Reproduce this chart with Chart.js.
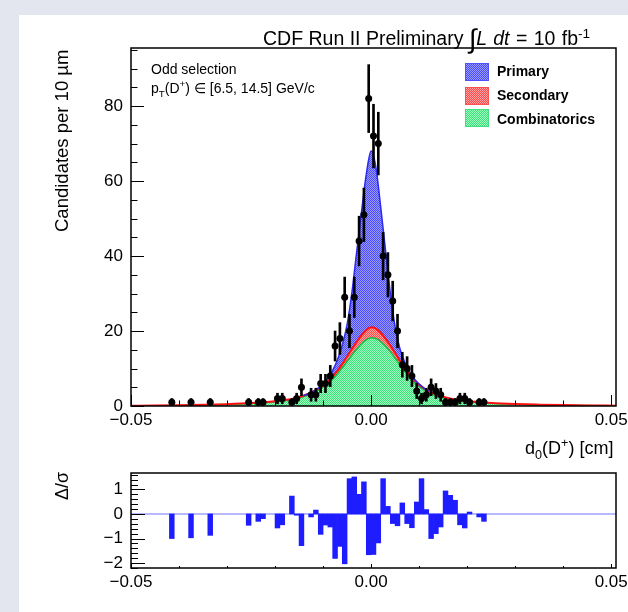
<!DOCTYPE html>
<html>
<head>
<meta charset="utf-8">
<script src="https://cdn.jsdelivr.net/npm/chart.js@4.4.1/dist/chart.umd.min.js"></script>
<style>
  html, body { margin: 0; padding: 0; }
  body { width: 628px; height: 612px; background: #e3e6ee; position: relative; overflow: hidden;
         font-family: "Liberation Sans", Arial, Helvetica, sans-serif; color: #000; }
  #panel { position: absolute; left: 19px; top: 15px; right: 0; bottom: 0; background: #fff; }
  canvas { position: absolute; left: 0; }
  #main { top: 0; }
  #resid { top: 460px; }
  .txt { position: absolute; white-space: nowrap; line-height: 1; }
  .rot { transform-origin: 0 0; transform: rotate(-90deg); }
  .box { position: absolute; width: 22px; height: 16px; }
  sub, sup { font-size: 70%; line-height: 0; }
</style>
</head>
<body>
<div id="panel"></div>
<canvas id="main" width="628" height="470"></canvas>
<canvas id="resid" width="628" height="152"></canvas>

<div class="txt" style="left:263px; top:26px; font-size:19.5px;">CDF Run II Preliminary <span style="font-size:27px; vertical-align:-3px;">∫</span><span style="word-spacing:1px;"><i>L dt</i> = 10 fb<sup>-1</sup></span></div>
<div class="txt" style="left:151px; top:62px; font-size:14px;">Odd selection</div>
<div class="txt" style="left:151px; top:81px; font-size:14px;">p<sub>T</sub>(D<sup>+</sup>) ∈ [6.5, 14.5] GeV/c</div>

<div class="box" style="left:465px; top:63px; border:1px solid #5050ff; background:repeating-conic-gradient(#4b4bff 0 25%, #9a9aff 0 50%) 0 0/2px 2px;"></div>
<div class="box" style="left:465px; top:87px; border:1px solid #ff5050; background:repeating-conic-gradient(#ff4a4a 0 25%, #ffa5a5 0 50%) 0 0/2px 2px;"></div>
<div class="box" style="left:465px; top:109px; border:1px solid #40e080; background:repeating-conic-gradient(#3ee07a 0 25%, #a0ffc0 0 50%) 0 0/2px 2px;"></div>
<div class="txt" style="left:497px; top:64px; font-size:14px; font-weight:bold;">Primary</div>
<div class="txt" style="left:497px; top:88px; font-size:14px; font-weight:bold;">Secondary</div>
<div class="txt" style="left:497px; top:112px; font-size:14px; font-weight:bold;">Combinatorics</div>

<div class="txt rot" style="left:53px; top:232px; font-size:18.5px;">Candidates per 10 µm</div>
<div class="txt" style="left:525px; top:439px; font-size:18px;">d<sub>0</sub>(D<sup>+</sup>) [cm]</div>
<div class="txt rot" style="left:53px; top:500px; font-size:18px;">Δ/σ</div>

<script>
// binned data: bin centres [cm], counts, Poisson errors
const binX = [-0.0415, -0.0375, -0.0335, -0.0255, -0.0235, -0.0225, -0.0195, -0.0185, -0.0165, -0.0155,
  -0.0145, -0.0125, -0.0115, -0.0105, -0.0095, -0.0085, -0.0075, -0.0065, -0.0055, -0.0045,
  -0.0035, -0.0025, -0.0015, -0.0005, 0.0005, 0.0015, 0.0025, 0.0035, 0.0045, 0.0055,
  0.0065, 0.0075, 0.0085, 0.0095, 0.0105, 0.0115, 0.0125, 0.0135, 0.0145, 0.0155,
  0.0165, 0.0175, 0.0185, 0.0195, 0.0205, 0.0225, 0.0235];
const counts = [1, 1, 1, 1, 1, 1, 2, 2, 1, 2,
  5, 3, 3, 6, 6, 8, 16, 18, 29, 20,
  29, 44, 51, 82, 72, 70, 40, 35, 28, 20,
  11, 10, 8, 4, 2, 3, 5, 4, 3, 1,
  1, 1, 2, 2, 1, 1, 1];
const errors = [1, 1, 1, 1, 1, 1, 1.41, 1.41, 1, 1.41,
  2.24, 1.73, 1.73, 2.45, 2.45, 2.83, 4, 4.24, 5.39, 4.47,
  5.39, 6.63, 7.14, 9.06, 8.49, 8.37, 6.32, 5.92, 5.29, 4.47,
  3.32, 3.16, 2.83, 2, 1.41, 1.73, 2.24, 2, 1.73, 1,
  1, 1, 1.41, 1.41, 1, 1, 1];
// pull (fit - data)/sigma for the same bins
const pulls = [-1.0, -0.97, -0.87, -0.46, -0.30, -0.19, -0.57, -0.44, 0.73, -0.05,
  -1.29, -0.12, 0.16, -0.83, -0.45, -0.53, -1.81, -1.32, -2.03, 1.44,
  1.51, 0.80, 1.31, -1.66, -1.65, -1.18, 1.44, 0.31, -0.39, -0.48,
  0.45, -0.39, -0.56, 0.49, 1.44, 0.18, -1.0, -0.80, -0.53, 0.94,
  0.76, 0.56, -0.44, -0.57, 0.08, -0.12, -0.30];

// fit components
const modelX = [-0.05, -0.045, -0.04, -0.035, -0.03, -0.025, -0.02, -0.018, -0.016, -0.014,
  -0.012, -0.011, -0.010, -0.009, -0.008, -0.007, -0.006, -0.005, -0.004, -0.003,
  -0.002, -0.001, 0, 0.001, 0.002, 0.003, 0.004, 0.005, 0.006, 0.007,
  0.008, 0.009, 0.010, 0.011, 0.012, 0.014, 0.016, 0.018, 0.020, 0.025,
  0.030, 0.035, 0.040, 0.045, 0.051];
const combinatorics = [0.05, 0.08, 0.15, 0.25, 0.4, 0.65, 1.1, 1.4, 1.8, 2.5,
  3.5, 4.2, 5.0, 6.0, 7.2, 8.6, 10.2, 11.9, 13.6, 15.2,
  16.6, 17.7, 18.2, 18.0, 17.2, 16.0, 14.5, 12.8, 11.0, 9.3,
  7.7, 6.3, 5.2, 4.3, 3.6, 2.6, 1.9, 1.45, 1.15, 0.7,
  0.45, 0.3, 0.2, 0.12, 0.07];
const secondary = [0.02, 0.03, 0.04, 0.06, 0.08, 0.12, 0.17, 0.2, 0.24, 0.3,
  0.38, 0.43, 0.5, 0.58, 0.7, 0.85, 1.05, 1.3, 1.6, 1.95,
  2.3, 2.6, 2.8, 2.65, 2.35, 2.0, 1.65, 1.35, 1.1, 0.9,
  0.72, 0.6, 0.5, 0.43, 0.38, 0.3, 0.24, 0.2, 0.17, 0.12,
  0.08, 0.06, 0.04, 0.03, 0.02];
const primary = [0, 0, 0, 0, 0, 0, 0, 0, 0, 0,
  0.05, 0.15, 0.35, 0.75, 1.6, 2.9, 5.0, 8.5, 15.0, 24.0,
  32.8, 41.5, 47, 43, 33.5, 23.5, 14, 7.0, 3.2, 1.5,
  0.7, 0.3, 0.15, 0.05, 0, 0, 0, 0, 0, 0,
  0, 0, 0, 0, 0];

const xTickLabels = [-0.05, 0, 0.05];
const yTickLabels = [0, 20, 40, 60, 80];
const pullTickLabels = [-2, -1, 0, 1];

const FONT = '"Liberation Sans", Arial, Helvetica, sans-serif';
Chart.defaults.font.family = FONT;
Chart.defaults.color = '#000';

function hatch(c1, c2) {
  const tile = document.createElement('canvas');
  tile.width = 2;
  tile.height = 2;
  const t = tile.getContext('2d');
  t.fillStyle = c2;
  t.fillRect(0, 0, 2, 2);
  t.fillStyle = c1;
  t.fillRect(0, 0, 1, 1);
  t.fillRect(1, 1, 1, 1);
  return t.createPattern(tile, 'repeat');
}

const fmtX = (v) => (v < 0 ? '\u2212' : '') + Math.abs(v).toFixed(2);

// ROOT style frame with ticks pointing inwards
function frameTicks(spec) {
  return {
    id: 'frameTicks',
    afterDraw(chart) {
      const { ctx, chartArea: a, scales: { x, y } } = chart;
      ctx.save();
      ctx.strokeStyle = '#000';
      ctx.lineWidth = 1;
      ctx.beginPath();
      for (let v = spec.yMin; v <= spec.yMax + 1e-9; v += spec.yStep) {
        const py = Math.round(y.getPixelForValue(v)) + 0.5;
        const major = spec.yMajor.some((m) => Math.abs(m - v) < 1e-6);
        ctx.moveTo(a.left, py);
        ctx.lineTo(a.left + (major ? spec.yLen : spec.yLen / 2), py);
      }
      for (let v = -0.05; v <= 0.0501; v += 0.01) {
        const px = Math.round(x.getPixelForValue(v)) + 0.5;
        const major = xTickLabels.some((m) => Math.abs(m - v) < 1e-6);
        ctx.moveTo(px, a.bottom);
        ctx.lineTo(px, a.bottom - (major ? spec.xLen : spec.xLen / 2));
      }
      ctx.stroke();
      ctx.lineWidth = 1.5;
      ctx.strokeRect(a.left, a.top, a.right - a.left, a.bottom - a.top);
      ctx.restore();
    },
  };
}

function axisX(height) {
  return {
    type: 'linear', min: -0.05, max: 0.051, offset: false,
    grid: { display: false, drawTicks: false }, border: { display: false },
    afterBuildTicks: (s) => { s.ticks = xTickLabels.map((v) => ({ value: v })); },
    afterFit: (s) => { s.height = height; s.paddingLeft = 0; s.paddingRight = 0; },
    ticks: { padding: 4, autoSkip: false, maxRotation: 0, font: { size: 17 }, callback: fmtX },
  };
}

function axisY(min, max, labels) {
  return {
    min, max,
    grid: { display: false, drawTicks: false }, border: { display: false },
    afterBuildTicks: (s) => { s.ticks = labels.map((v) => ({ value: v })); },
    afterFit: (s) => { s.width = 131; s.paddingTop = 0; s.paddingBottom = 0; },
    ticks: { padding: 8, font: { size: 17 }, callback: (v) => (v < 0 ? '\u2212' + Math.abs(v) : String(v)) },
  };
}

const combTop = combinatorics;
const secTop = combinatorics.map((v, i) => v + secondary[i]);
const priTop = secTop.map((v, i) => v + primary[i]);
const curve = (ys) => modelX.map((x, i) => ({ x, y: ys[i] }));
// hide the primary outline where that component is empty
const primaryEdge = (c) => (primary[c.p0DataIndex] < 0.02 && primary[c.p1DataIndex] < 0.02 ? 'rgba(0,0,0,0)' : undefined);

new Chart(document.getElementById('main'), {
  type: 'line',
  data: {
    datasets: [
      { label: 'Combinatorics', data: curve(combTop), fill: 'origin', backgroundColor: hatch('#3ee07a', '#a0ffc0'),
        borderColor: '#18b848', borderWidth: 1.5, pointRadius: 0, cubicInterpolationMode: 'monotone', order: 5 },
      { label: 'Secondary', data: curve(secTop), fill: '-1', backgroundColor: hatch('#ff4a4a', '#ffa5a5'),
        borderColor: '#ff1010', borderWidth: 2, pointRadius: 0, cubicInterpolationMode: 'monotone', order: 4 },
      { label: 'Primary', data: curve(priTop), fill: '-1', backgroundColor: hatch('#4b4bff', '#9a9aff'),
        borderColor: '#2a2aee', borderWidth: 1.5, pointRadius: 0, cubicInterpolationMode: 'monotone', order: 3,
        segment: { borderColor: primaryEdge } },
      { type: 'bar', label: 'err', data: binX.map((x, i) => ({ x, y: [counts[i] - errors[i], counts[i] + errors[i]] })),
        backgroundColor: '#000', barThickness: 2, grouped: false, order: 2 },
      { type: 'scatter', label: 'Data', data: binX.map((x, i) => ({ x, y: counts[i] })),
        pointRadius: 3.5, pointBackgroundColor: '#000', pointBorderWidth: 0, showLine: false, order: 1 },
    ],
  },
  options: {
    responsive: false,
    animation: false,
    layout: { padding: { left: 0, right: 12, top: 48, bottom: 0 } },
    plugins: { legend: { display: false }, tooltip: { enabled: false }, filler: { drawTime: 'beforeDatasetsDraw' } },
    scales: { x: axisX(64), y: axisY(0, 95.5, yTickLabels) },
  },
  plugins: [frameTicks({ yMin: 0, yMax: 95, yStep: 5, yMajor: yTickLabels, yLen: 13, xLen: 11 })],
});

new Chart(document.getElementById('resid'), {
  type: 'bar',
  data: {
    datasets: [
      { type: 'line', label: 'zero', data: [{ x: -0.05, y: 0 }, { x: 0.051, y: 0 }],
        borderColor: '#7474ff', borderWidth: 1, pointRadius: 0, order: 2 },
      { type: 'bar', label: 'pull', data: binX.map((x, i) => ({ x, y: pulls[i] })),
        backgroundColor: '#1d1dff', barThickness: 4.8, grouped: false, order: 1 },
    ],
  },
  options: {
    responsive: false,
    animation: false,
    layout: { padding: { left: 0, right: 12, top: 13, bottom: 0 } },
    plugins: { legend: { display: false }, tooltip: { enabled: false } },
    scales: { x: axisX(44), y: axisY(-2.2, 1.67, pullTickLabels) },
  },
  plugins: [frameTicks({ yMin: -2.2, yMax: 1.6, yStep: 0.2, yMajor: pullTickLabels, yLen: 14, xLen: 4 })],
});
</script>
</body>
</html>
